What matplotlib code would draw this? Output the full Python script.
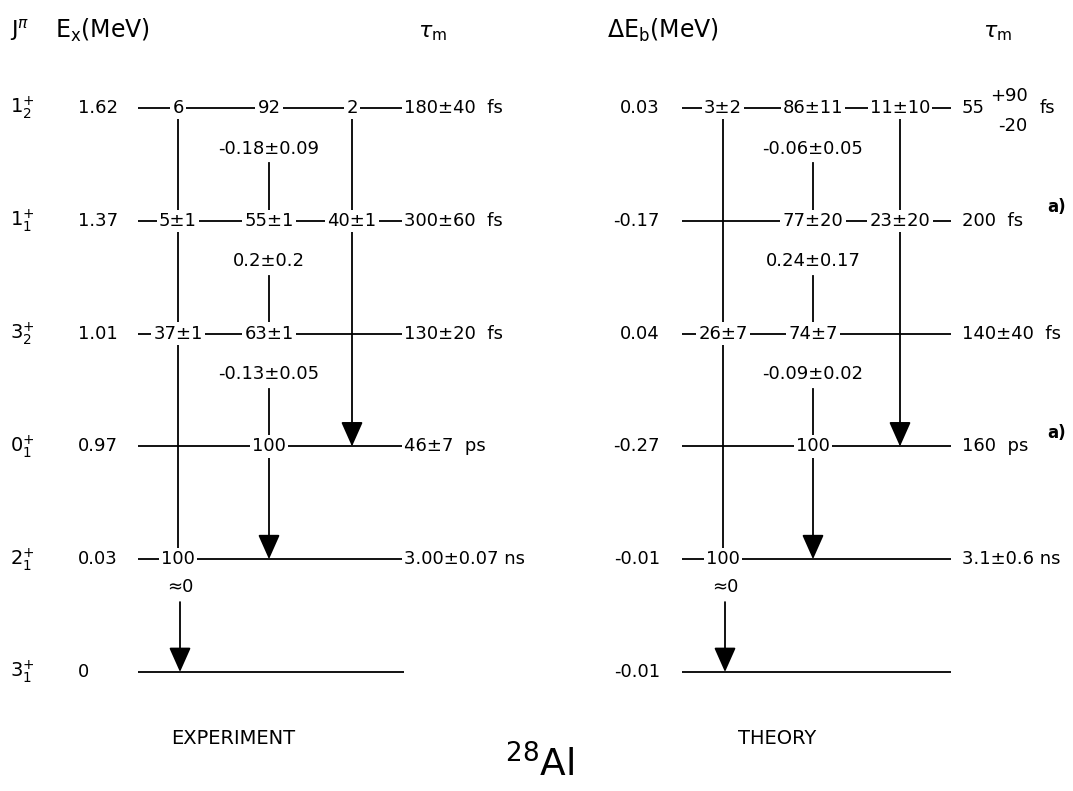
import matplotlib
matplotlib.use("Agg")
import matplotlib.pyplot as plt

# ---------------- data ----------------
jpi = [r"$1^{+}_{2}$", r"$1^{+}_{1}$", r"$3^{+}_{2}$", r"$0^{+}_{1}$", r"$2^{+}_{1}$", r"$3^{+}_{1}$"]
ex_mev = ["1.62", "1.37", "1.01", "0.97", "0.03", "0"]
tau_exp = ["180±40  fs", "300±60  fs", "130±20  fs", "46±7  ps", "3.00±0.07 ns", ""]
deb_mev = ["0.03", "-0.17", "0.04", "-0.27", "-0.01", "-0.01"]
tau_th = ["55", "200  fs", "140±40  fs", "160  ps", "3.1±0.6 ns", ""]
tau_th_top_up = "+90"
tau_th_top_dn = "-20"
tau_th_notes = ["", "a)", "", "a)", "", ""]

# branching ratios at the originating level for columns (left, middle, right)
branch_exp = [["6", "92", "2"], ["5±1", "55±1", "40±1"], ["37±1", "63±1", None],
              [None, "100", None], ["100", None, None]]
branch_th = [["3±2", "86±11", "11±10"], [None, "77±20", "23±20"], ["26±7", "74±7", None],
             [None, "100", None], ["100", None, None]]
# mixing ratios on the middle column between level i and i+1
mix_exp = ["-0.18±0.09", "0.2±0.2", "-0.13±0.05"]
mix_th = ["-0.06±0.05", "0.24±0.17", "-0.09±0.02"]
mix_ground = "≈0"

# level rank (top level first); drawing is schematic, not to energy scale
rank = [5, 4, 3, 2, 1, 0]

# ---------------- layout ----------------
W, H = 1073, 791
fig = plt.figure(figsize=(W / 100, H / 100), dpi=100)
ax = fig.add_axes([0, 0, 1, 1])
ax.axis("off")
Y0, DY = 672.0, 112.8           # pixel position of ground level, spacing
ax.set_xlim(0, W)
ax.set_ylim((Y0 - H) / DY, Y0 / DY)

def py(p):                       # pixel row -> rank units for text layout
    return (Y0 - p) / DY

FS = 13
box = dict(facecolor="white", edgecolor="none", pad=1.5)
LW = 1.3

panels = [
    dict(x0=138, x1=404, cols=[178, 269, 352], branch=branch_exp, mix=mix_exp,
         tau=tau_exp, taux=404),
    dict(x0=682, x1=951, cols=[723, 813, 900], branch=branch_th, mix=mix_th,
         tau=tau_th, taux=962),
]

def arrow(x, ya, yb):
    ax.annotate("", xy=(x, yb), xytext=(x, ya),
                arrowprops=dict(arrowstyle="-|>,head_length=0.9,head_width=0.4",
                                color="black", lw=LW, shrinkA=0, shrinkB=0,
                                mutation_scale=17), zorder=2)

for P in panels:
    cL, cM, cR = P["cols"]
    # level lines
    for i, r in enumerate(rank):
        ax.plot([P["x0"], P["x1"]], [r, r], color="black", lw=LW, zorder=1,
                solid_capstyle="butt")
        if P["tau"][i]:
            ax.text(P["taux"], r, P["tau"][i], fontsize=FS, ha="left", va="center",
                    bbox=box, zorder=3)
        for c, lab in zip(P["cols"], P["branch"][i] if i < len(P["branch"]) else []):
            if lab:
                ax.text(c, r, lab, fontsize=FS, ha="center", va="center",
                        bbox=box, zorder=3)
    # left column: top level down to 0.03 level
    ax.plot([cL, cL], [rank[0], rank[4]], color="black", lw=LW, zorder=1)
    # right column: top level down to 0.97 level with arrow
    arrow(cR, rank[0], rank[3])
    # middle column segments with mixing ratios
    for i, m in enumerate(P["mix"]):
        ym = rank[i] - 0.36
        ax.text(cM, ym, m, fontsize=FS, ha="center", va="center", bbox=box, zorder=3)
        ax.plot([cM, cM], [ym - 0.13, rank[i + 1]], color="black", lw=LW, zorder=1)
    arrow(cM, rank[3], rank[4])
    # ground transition
    ax.text(cL + 2, rank[4] - 0.25, mix_ground, fontsize=FS, ha="center", va="center")
    arrow(cL + 2, rank[4] - 0.38, rank[5])

# left labels
for i, r in enumerate(rank):
    ax.text(22, r, jpi[i], fontsize=FS + 1, ha="center", va="center")
    ax.text(78, r, ex_mev[i], fontsize=FS, ha="left", va="center")
    ax.text(660, r, deb_mev[i], fontsize=FS, ha="right", va="center")
    if tau_th_notes[i]:
        ax.text(1047, r + 0.12, tau_th_notes[i], fontsize=FS - 1, ha="left",
                va="center", fontweight="bold")

# theory top-level lifetime with asymmetric errors
r0 = rank[0]
ax.text(990, r0 + 0.11, tau_th_top_up, fontsize=FS, ha="left", va="center")
ax.text(998, r0 - 0.16, tau_th_top_dn, fontsize=FS, ha="left", va="center")
ax.text(1040, r0, "fs", fontsize=FS, ha="left", va="center")

# headers
ax.text(10, py(30), r"J$^{\pi}$", fontsize=FS + 3, ha="left", va="center")
ax.text(55, py(30), r"E$_{\rm x}$(MeV)", fontsize=FS + 4, ha="left", va="center")
ax.text(418, py(33), r"$\tau_{\rm m}$", fontsize=FS + 3, ha="left", va="center")
ax.text(607, py(30), r"$\Delta$E$_{\rm b}$(MeV)", fontsize=FS + 4, ha="left", va="center")
ax.text(983, py(33), r"$\tau_{\rm m}$", fontsize=FS + 3, ha="left", va="center")

# footers
ax.text(233, py(738), "EXPERIMENT", fontsize=FS + 1, ha="center", va="center")
ax.text(777, py(738), "THEORY", fontsize=FS + 1, ha="center", va="center")
ax.text(540, py(765), r"$^{28}$Al", fontsize=27, ha="center", va="center")

fig.savefig("out.png", dpi=100, facecolor="white")
